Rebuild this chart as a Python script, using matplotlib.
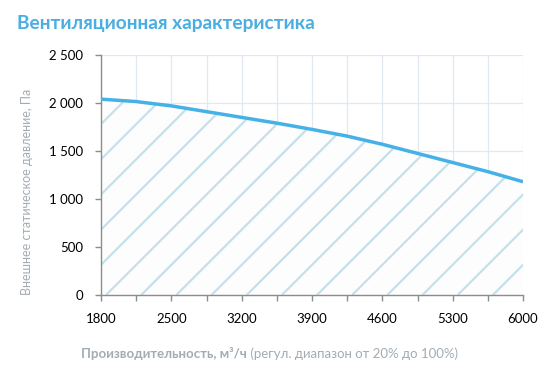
import matplotlib
matplotlib.use("Agg")
import matplotlib.pyplot as plt
import numpy as np
from matplotlib.patches import Polygon
from matplotlib.ticker import FuncFormatter, MultipleLocator

plt.rcParams['font.family'] = ['Lato', 'Open Sans', 'DejaVu Sans']

# Data
flow = [1800, 2150, 2500, 2850, 3200, 3550, 3900, 4250, 4600, 4950, 5300, 5650, 6000]
pressure = [2040, 2015, 1970, 1910, 1850, 1790, 1725, 1655, 1570, 1475, 1380, 1285, 1180]
x_tick_labels = ['1800', '2500', '3200', '3900', '4600', '5300', '6000']

title = 'Вентиляционная характеристика'
ylabel = 'Внешнее статическое давление, Па'
xlabel_bold = 'Производительность, м³/ч'
xlabel_rest = ' (регул. диапазон от 20% до 100%)'

line_color = '#45b1e6'
hatch_color = '#c4e1eb'
grid_color = '#dfe8f3'
grey_text = '#a3acb4'

fig = plt.figure(figsize=(5.51, 3.80), dpi=100)
ax = fig.add_axes([101 / 551, 1 - 295 / 380, 422 / 551, 240 / 380])

ax.set_xlim(1800, 6000)
ax.set_ylim(0, 2500)

# grid
ax.xaxis.set_major_locator(MultipleLocator(350))
ax.yaxis.set_major_locator(MultipleLocator(500))
ax.grid(True, color=grid_color, linewidth=0.9)
ax.set_axisbelow(True)

# fill polygon and hatch
verts = [(flow[0], 0)] + list(zip(flow, pressure)) + [(flow[-1], 0)]
poly = Polygon(verts, closed=True, facecolor='#fdfdfe', edgecolor='none', zorder=1)
ax.add_patch(poly)

px_x = 4200 / 422.0
px_y = 2500 / 240.0
slope = px_y / px_x
step = 350
start = 1850
for k in range(-8, 14):
    x0 = start + k * step
    xs = np.array([x0, x0 + 3000])
    ys = (xs - x0) * slope
    ln, = ax.plot(xs, ys, color=hatch_color, linewidth=1.6, zorder=2,
                  solid_capstyle='butt')
    ln.set_clip_path(poly)

ax.plot(flow, pressure, color=line_color, linewidth=2.5, zorder=3,
        solid_capstyle='butt')

# spines
for s in ['top', 'right']:
    ax.spines[s].set_visible(False)
for s in ['left', 'bottom']:
    ax.spines[s].set_color('#8c8c8c')
    ax.spines[s].set_linewidth(1.0)

ax.tick_params(axis='both', colors='#8c8c8c', length=4, width=1.0,
               labelcolor='black', labelsize=9.5)
ax.tick_params(axis='y', pad=9)
ax.tick_params(axis='x', pad=9)

xt = np.arange(1800, 6001, 350)
ax.set_xticks(xt)
labels = []
j = 0
for i, v in enumerate(xt):
    if i % 2 == 0:
        labels.append(x_tick_labels[j])
        j += 1
    else:
        labels.append('')
ax.set_xticklabels(labels)
ax.yaxis.set_major_formatter(FuncFormatter(lambda v, p: f"{int(v):,}".replace(',', ' ')))

# title
fig.text(17 / 551, 1 - 24 / 380, title, fontsize=13.8, fontweight='bold',
         color='#4aaee3', ha='left', va='center')

# y label
fig.text(27 / 551, 1 - 192 / 380, ylabel, fontsize=9, color=grey_text,
         rotation=90, ha='center', va='center')

# x label
t1 = fig.text(81 / 551, 1 - 353 / 380, xlabel_bold, fontsize=9.5, fontweight='bold',
              color=grey_text, ha='left', va='center')
fig.canvas.draw()
ax.annotate(xlabel_rest, xy=(1, 0), xycoords=t1, xytext=(0, 0), textcoords='offset points',
            fontsize=9.5, color=grey_text, ha='left', va='bottom')

fig.savefig('out.png', dpi=100)
